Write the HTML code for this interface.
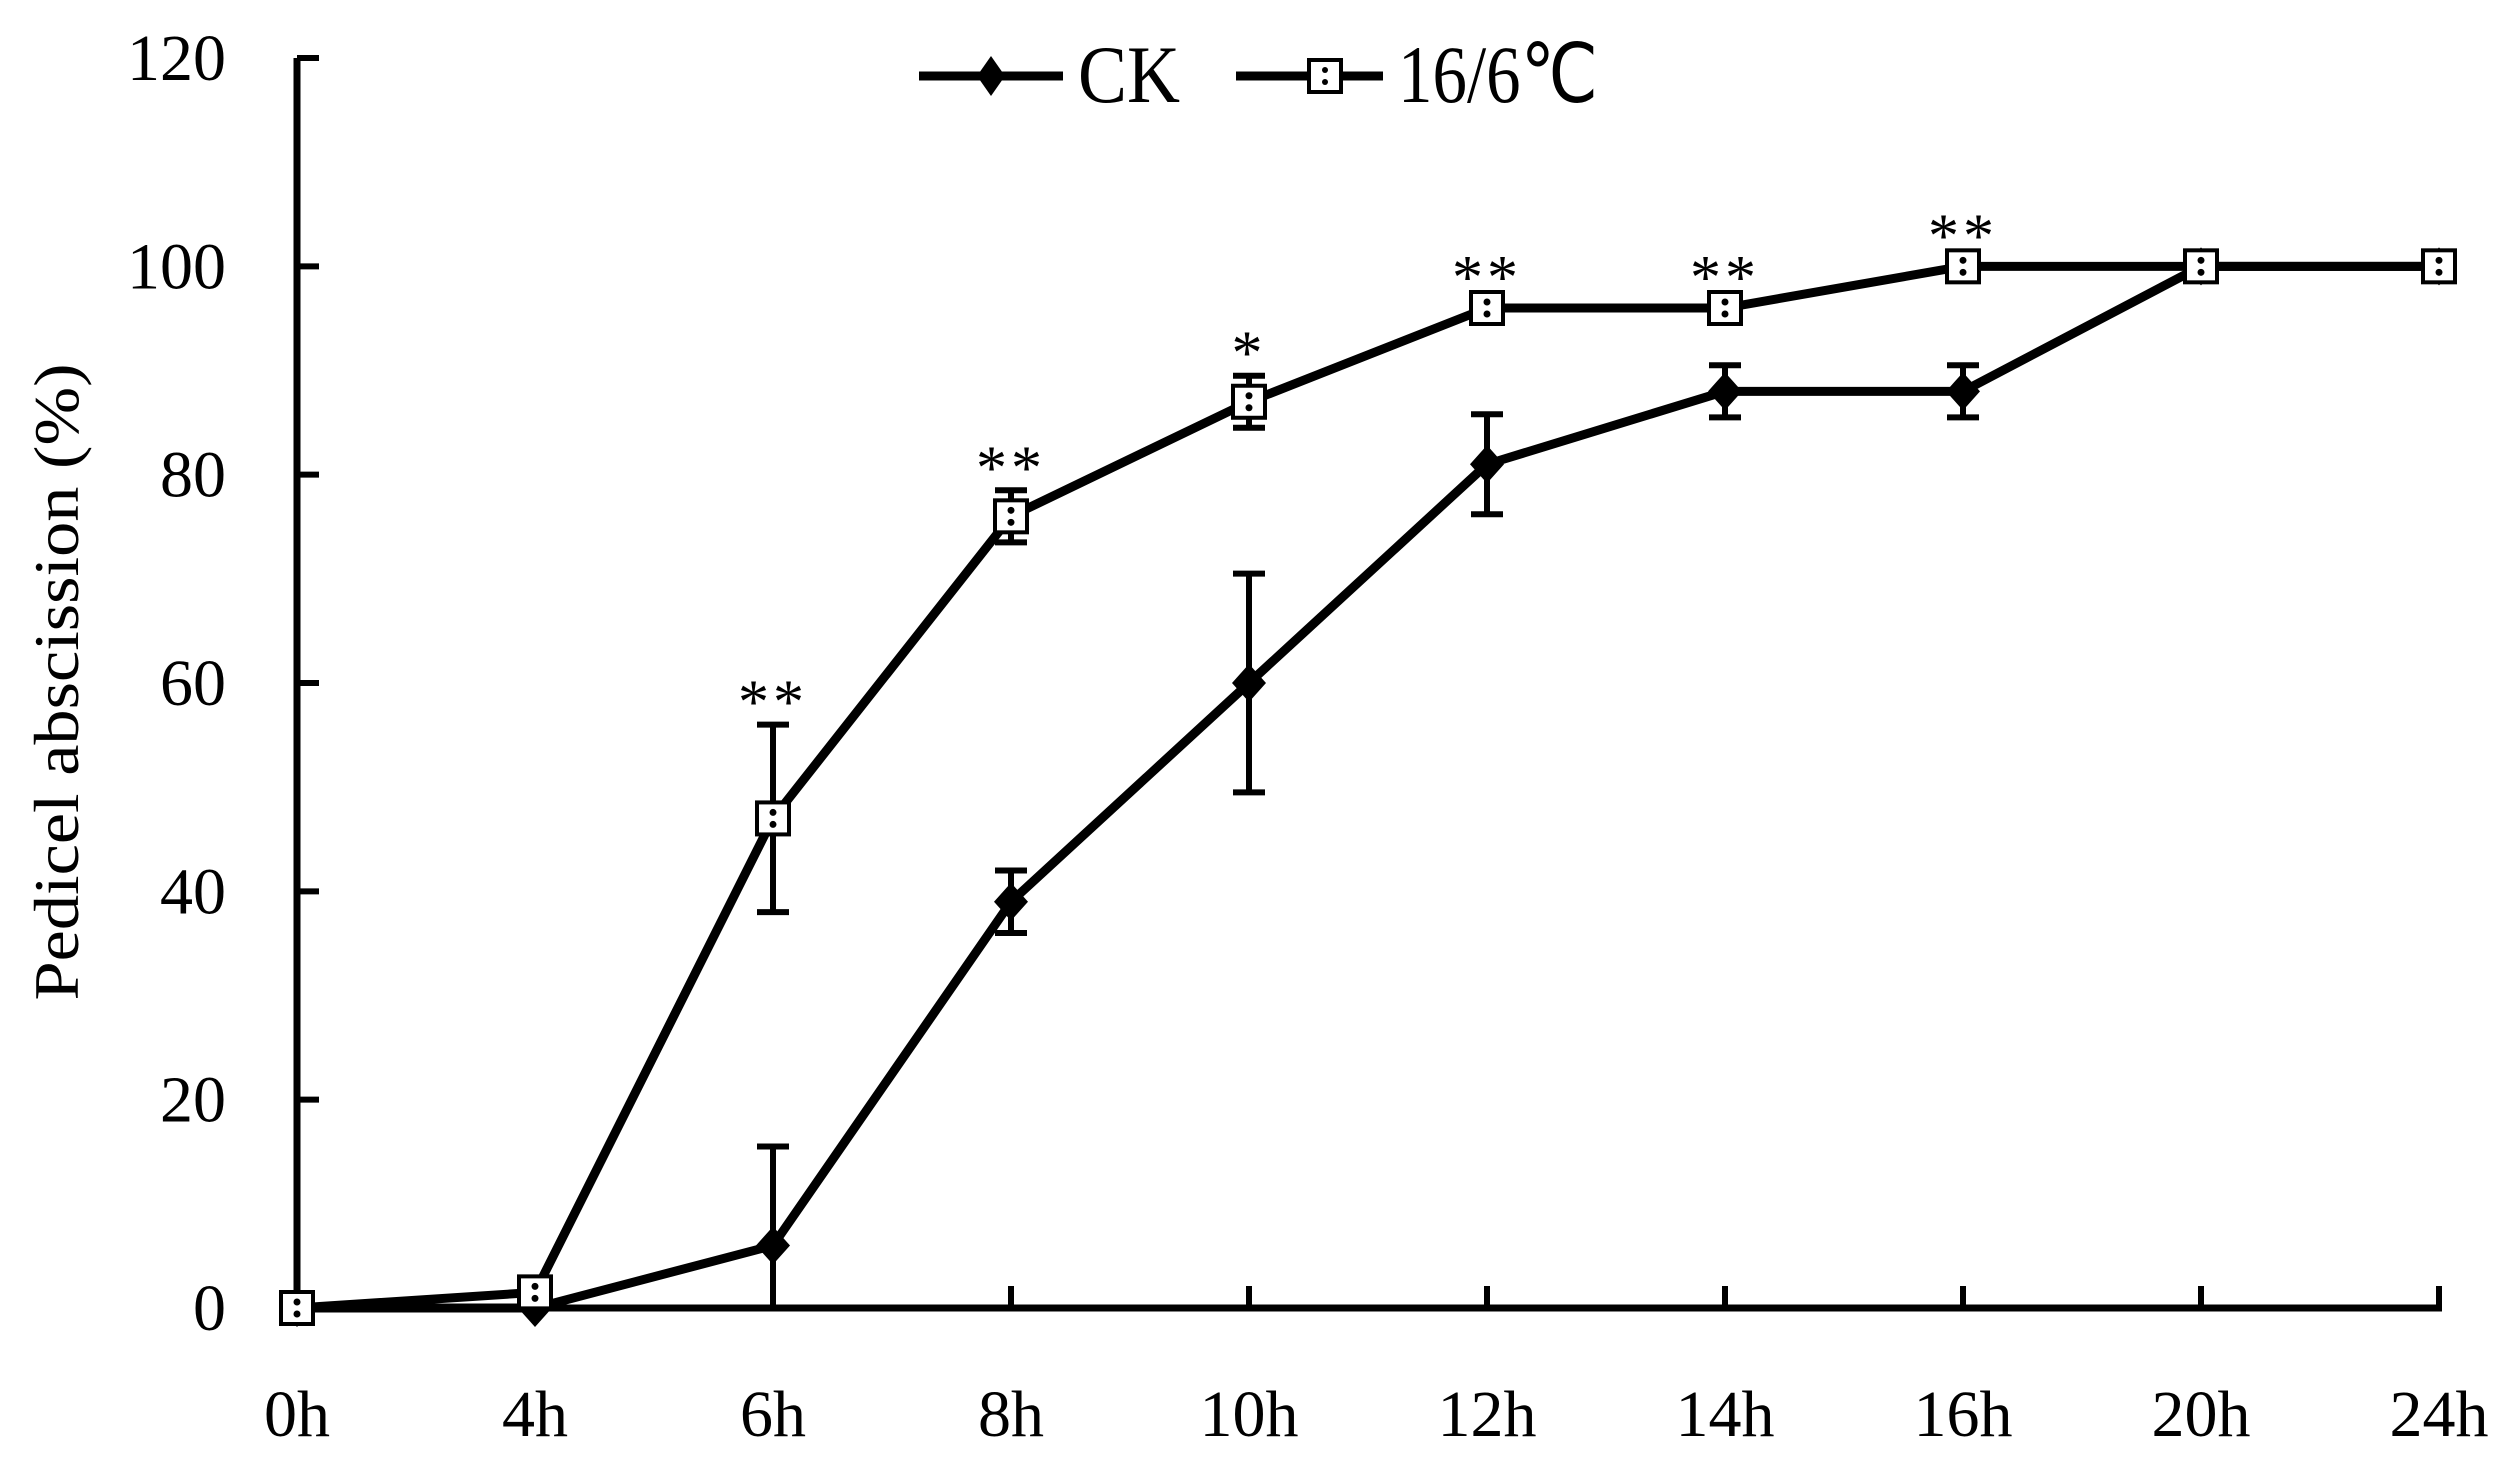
<!DOCTYPE html>
<html><head><meta charset="utf-8"><style>
html,body{margin:0;padding:0;background:#fff;}
svg{display:block;font-family:"Liberation Serif",serif;}
</style></head><body>
<svg id="chart" width="2517" height="1466" viewBox="0 0 2517 1466" xmlns="http://www.w3.org/2000/svg">
<text x="0" y="0" transform="translate(78,682) rotate(-90)" text-anchor="middle" font-size="64" textLength="637" lengthAdjust="spacingAndGlyphs">Pedicel abscission (%)</text>
<g id="legend">
  <g>
    <line x1="919" y1="76" x2="1063" y2="76" stroke="#000" stroke-width="9"/>
    <polygon points="991,56 1005,76 991,96 977,76" fill="#000"/>
    <text x="1078" y="102" font-size="82" textLength="102" lengthAdjust="spacingAndGlyphs">CK</text>
  </g>
  <g>
    <line x1="1236" y1="76" x2="1383" y2="76" stroke="#000" stroke-width="9"/>
    <rect x="1309" y="60" width="32" height="32" fill="#fff" stroke="#000" stroke-width="4"/>
    <circle cx="1325" cy="70" r="3" fill="#000"/><circle cx="1325" cy="82" r="3" fill="#000"/>
    <text x="1398" y="102" font-size="82" textLength="200" lengthAdjust="spacingAndGlyphs">16/6℃</text>
  </g>
</g>
<g id="plot"></g>
</svg>
<script>
const categories = ["0h","4h","6h","8h","10h","12h","14h","16h","20h","24h"];
const ckValues = [0,0,6,39,60,81,88,88,100,100];
const ckErrors = [0,0,9.5,3,10.5,4.8,2.5,2.5,0,0];
const coldValues = [0,1.5,47,76,87,96,96,100,100,100];
const coldErrors = [0,0,9,2.5,2.5,0,0,0,0,0];
const significance = ["","","**","**","*","**","**","**","",""];
const yTicks = [0,20,40,60,80,100,120];

const NS = "http://www.w3.org/2000/svg";
const g = document.getElementById('plot');
const X0 = 297, STEP = 238, Y0 = 1308, YTOP = 58;
function xs(i){ return X0 + i*STEP; }
function ys(v){ return Y0 - (v/120)*(Y0-YTOP); }
function mk(tag, attrs){ const e=document.createElementNS(NS,tag); for(const k in attrs) e.setAttribute(k,attrs[k]); g.appendChild(e); return e; }

let ya = mk('line',{x1:X0,y1:ys(120),x2:X0,y2:Y0,stroke:'#000','stroke-width':7});


let xa = mk('line',{x1:X0-3,y1:Y0,x2:xs(categories.length-1)+3,y2:Y0,stroke:'#000','stroke-width':7});



yTicks.forEach(v=>{
  const t = mk('line',{x1:X0,y1:ys(v),x2:X0+22,y2:ys(v),stroke:'#000','stroke-width':6});
  
  
  const l = mk('text',{x:226,y:ys(v)+22,'text-anchor':'end','font-size':66});
  l.textContent = v;
  
  
});
categories.forEach((c,i)=>{
  const t = mk('line',{x1:xs(i),y1:Y0,x2:xs(i),y2:Y0-22,stroke:'#000','stroke-width':6});
  
  
  const l = mk('text',{x:xs(i),y:1436,'text-anchor':'middle','font-size':66});
  l.textContent = c;
  
  
});

function series(vals, errs, name){
  const pts = vals.map((v,i)=>xs(i)+','+ys(v)).join(' ');
  const pl = mk('polyline',{points:pts,fill:'none',stroke:'#000','stroke-width':9,'stroke-linejoin':'round'});
  
  
  errs.forEach((e,i)=>{
    if(!e) return;
    const x=xs(i), t=ys(vals[i]+e);
    const low = vals[i]-e;
    const b=ys(Math.max(low,0));
    let d = `M${x},${t}V${b}M${x-16},${t}H${x+16}`;
    if(low>0) d += `M${x-16},${b}H${x+16}`;
    const eb = mk('path',{d:d,stroke:'#000','stroke-width':6,fill:'none'});
    
    
  });
}
series(ckValues, ckErrors, 'ck');
series(coldValues, coldErrors, 'cold');

ckValues.forEach((v,i)=>{
  const x=xs(i), y=ys(v);
  const p = mk('polygon',{points:`${x},${y-19} ${x+17},${y} ${x},${y+19} ${x-17},${y}`,fill:'#000'});
  
  
});
coldValues.forEach((v,i)=>{
  const x=xs(i), y=ys(v);
  const r = mk('rect',{x:x-16,y:y-16,width:32,height:32,fill:'#fff',stroke:'#000','stroke-width':4});
  
  
  const c1 = mk('circle',{cx:x,cy:y-6,r:3.5,fill:'#000'});
  
  
  const c2 = mk('circle',{cx:x,cy:y+6,r:3.5,fill:'#000'});
  
  
});
significance.forEach((s,i)=>{
  if(!s) return;
  const top = ys(coldValues[i]+coldErrors[i]) - (coldErrors[i]?34:42);
  const t = mk('text',{x:xs(i),y:top+32,'text-anchor':'middle','font-size':62,'letter-spacing':4});
  t.textContent = s;
  
  
});
</script>
</body></html>
